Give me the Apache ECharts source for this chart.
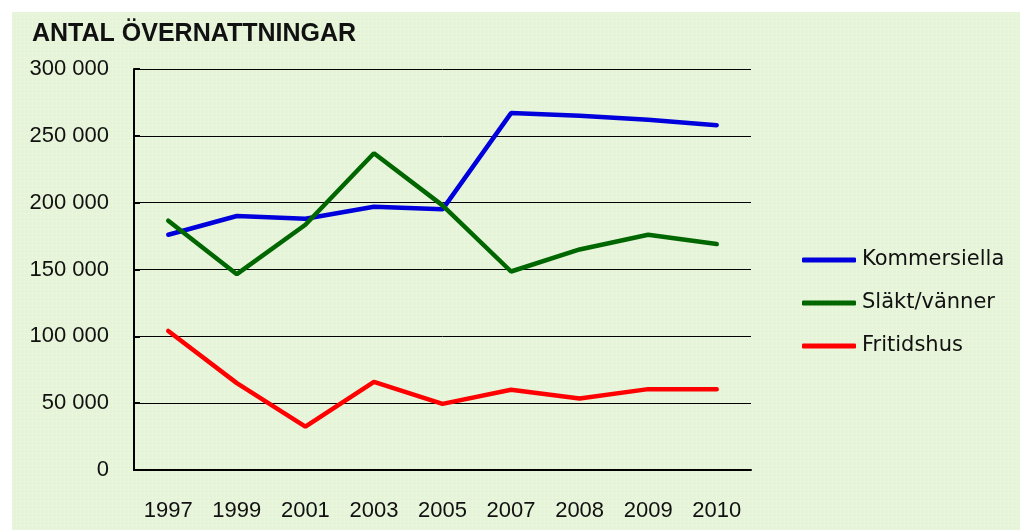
<!DOCTYPE html>
<html>
<head>
<meta charset="utf-8">
<script src="https://cdn.jsdelivr.net/npm/echarts@6/dist/echarts.min.js"></script>
<style>
html,body{margin:0;padding:0;background:#ffffff;}
#bg{position:absolute;left:12px;top:12px;width:1008px;height:518px;
background-color:#e5f3d7;
background-image:repeating-linear-gradient(0deg, rgba(255,255,255,0.15) 0 1px, transparent 1px 4px),
repeating-linear-gradient(90deg, rgba(255,255,255,0.15) 0 1px, transparent 1px 4px);}
#chart{position:absolute;left:0;top:0;width:1020px;height:530px;}
</style>
</head>
<body>
<div id="bg"></div>
<div id="chart"></div>
<script>
const categories = ['1997','1999','2001','2003','2005','2007','2008','2009','2010'];
const kommersiella = [176000, 190000, 188000, 197000, 195000, 267000, 265000, 262000, 258000];
const slaktVanner = [186500, 146500, 183500, 237000, 198000, 148500, 165000, 176000, 169000];
const fritidshus = [104000, 65000, 32500, 66000, 49500, 60000, 53500, 60500, 60500];
const seriesNames = ['Kommersiella', 'Släkt/vänner', 'Fritidshus'];
const titleText = 'ANTAL ÖVERNATTNINGAR';

const chart = echarts.init(document.getElementById('chart'), null, {renderer:'canvas'});
const fmt = v => v === 0 ? '0' : String(v).replace(/\B(?=(\d{3})+(?!\d))/g, ' ');
const mk = (name, data, color) => ({
  name, type:'line', data, symbol:'none', showSymbol:false,
  lineStyle:{color, width:4.5, cap:'round'}, itemStyle:{color},
  animation:false
});
chart.setOption({
  animation:false,
  title:{text:titleText, left:32, top:22, padding:0,
    textStyle:{fontFamily:'Liberation Sans', fontWeight:'bold', fontSize:25, color:'#111'}},
  legend:{orient:'vertical', left:802, top:248, itemWidth:54, itemHeight:5, itemGap:19,
    icon:'roundRect', padding:0,
    textStyle:{fontFamily:'DejaVu Sans', fontSize:21, color:'#111', lineHeight:24, padding:[0,0,0,1]},
    data:seriesNames},
  grid:{left:134, right:269, top:69, bottom:60, containLabel:false},
  xAxis:{type:'category', data:categories, boundaryGap:true,
    axisLine:{lineStyle:{color:'#000', width:2}},
    axisTick:{inside:true, length:6, lineStyle:{color:'#000', width:2}},
    axisLabel:{margin:30, fontFamily:'Liberation Sans', fontSize:22, color:'#111'}},
  yAxis:{type:'value', min:0, max:300000, interval:50000,
    axisLine:{show:true, lineStyle:{color:'#000', width:2}},
    axisTick:{show:true, inside:true, length:6, lineStyle:{color:'#000', width:2}},
    splitLine:{lineStyle:{color:'#000', width:1}},
    axisLabel:{margin:25, formatter:fmt, fontFamily:'Liberation Sans', fontSize:22, color:'#111'}},
  series:[
    mk(seriesNames[0], kommersiella, '#0000dd'),
    mk(seriesNames[1], slaktVanner, '#006600'),
    mk(seriesNames[2], fritidshus, '#ff0000')
  ]
});
</script>
</body>
</html>
